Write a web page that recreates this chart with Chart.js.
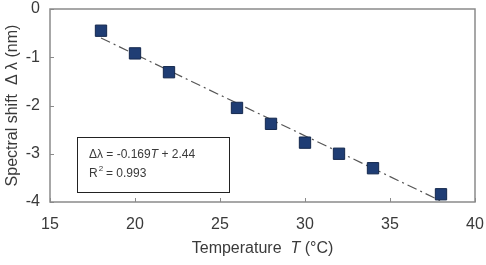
<!DOCTYPE html>
<html>
<head>
<meta charset="utf-8">
<script src="https://cdn.jsdelivr.net/npm/chart.js@4"></script>
<style>
  html, body { margin: 0; padding: 0; background: #fff; }
  #wrap { width: 486px; height: 265px; }
</style>
</head>
<body>
<div id="wrap"><canvas id="myChart" width="486" height="265"></canvas></div>
<script>
// measured points
var temps  = [18, 20, 22, 26, 28, 30, 32, 34, 38];
var shifts = [-0.45, -0.92, -1.31, -2.05, -2.38, -2.77, -3.00, -3.30, -3.84];

// linear fit
var fitT     = [18, 38];
var fitShift = [-0.60, -3.98];

var xTicks = [15, 20, 25, 30, 35, 40];
var yTicks = [0, -1, -2, -3, -4];

var fontFam = '"Liberation Sans", Arial, sans-serif';
var textCol = '#3a3a3a';

// frame, inward ticks, axis titles and the fit box
var decor = {
  id: 'decor',
  afterDatasetsDraw: function(chart) {
    var c = chart.ctx, a = chart.chartArea;
    var xs = chart.scales.x, ys = chart.scales.y;
    c.save();

    c.strokeStyle = '#8a8a8a';
    c.lineWidth = 1.5;
    c.strokeRect(a.left, a.top, a.right - a.left, a.bottom - a.top);

    c.lineWidth = 1;
    xTicks.forEach(function(v) {
      var px = Math.round(xs.getPixelForValue(v)) + 0.5;
      c.beginPath(); c.moveTo(px, a.bottom); c.lineTo(px, a.bottom - 4); c.stroke();
    });
    yTicks.forEach(function(v) {
      var py = Math.round(ys.getPixelForValue(v)) + 0.5;
      c.beginPath(); c.moveTo(a.left, py); c.lineTo(a.left + 4, py); c.stroke();
    });

    // box with equation
    c.fillStyle = '#fff';
    c.fillRect(77, 137, 152, 55);
    c.strokeStyle = '#222';
    c.lineWidth = 1;
    c.strokeRect(77.5, 137.5, 152, 55);

    c.fillStyle = textCol;
    c.textBaseline = 'middle';
    c.textAlign = 'left';
    var x0 = 89;
    c.font = '12px ' + fontFam;
    var s1 = 'Δλ = -0.169';
    c.fillText(s1, x0, 155);
    var w = c.measureText(s1).width;
    c.font = 'italic 12px ' + fontFam;
    c.fillText('T', x0 + w, 155);
    w += c.measureText('T').width;
    c.font = '12px ' + fontFam;
    c.fillText(' + 2.44', x0 + w, 155);

    c.fillText('R', x0, 174);
    var wr = c.measureText('R').width;
    c.font = '8px ' + fontFam;
    c.fillText('2', x0 + wr + 1, 169);
    c.font = '12px ' + fontFam;
    c.fillText(' = 0.993', x0 + wr + 5, 174);

    // x title
    c.font = '16px ' + fontFam;
    var p1 = 'Temperature  ', p3 = ' (°C)';
    var w1 = c.measureText(p1).width, w3 = c.measureText(p3).width;
    c.font = 'italic 16px ' + fontFam;
    var w2 = c.measureText('T').width;
    var sx = (a.left + a.right) / 2 - (w1 + w2 + w3) / 2;
    c.font = '16px ' + fontFam;
    c.fillText(p1, sx, 249);
    c.font = 'italic 16px ' + fontFam;
    c.fillText('T', sx + w1, 249);
    c.font = '16px ' + fontFam;
    c.fillText(p3, sx + w1 + w2, 249);

    // y title
    c.translate(13, (a.top + a.bottom) / 2);
    c.rotate(-Math.PI / 2);
    c.textAlign = 'center';
    c.font = '16px ' + fontFam;
    c.fillText('Spectral shift  Δ λ (nm)', 0, 0);

    c.restore();
  }
};

var ctx = document.getElementById('myChart').getContext('2d');
var chart = new Chart(ctx, {
  type: 'scatter',
  data: {
    datasets: [{
      label: 'measured',
      data: temps.map(function(t, i) { return { x: t, y: shifts[i] }; }),
      pointStyle: 'rect',
      pointRadius: 8,
      pointHoverRadius: 8,
      backgroundColor: '#1f3d74',
      borderColor: '#14284d',
      borderWidth: 1
    }, {
      label: 'fit',
      type: 'line',
      data: fitT.map(function(t, i) { return { x: t, y: fitShift[i] }; }),
      borderColor: '#555',
      borderWidth: 1.2,
      borderDash: [10, 4, 2, 4],
      pointRadius: 0,
      fill: false
    }]
  },
  options: {
    responsive: false,
    animation: false,
    events: [],
    layout: { padding: { top: 7, right: 11, left: 0, bottom: 0 } },
    plugins: { legend: { display: false }, tooltip: { enabled: false } },
    scales: {
      x: {
        type: 'linear', min: 15, max: 40,
        afterBuildTicks: function(s) { s.ticks = xTicks.map(function(v) { return { value: v }; }); },
        afterFit: function(s) { s.height = 63; s.paddingLeft = 0; s.paddingRight = 0; },
        grid: { display: false, drawTicks: false },
        border: { display: false },
        ticks: { padding: 13, color: textCol, font: { size: 16, family: fontFam }, maxRotation: 0 }
      },
      y: {
        type: 'linear', min: -4, max: 0,
        afterBuildTicks: function(s) { s.ticks = yTicks.map(function(v) { return { value: v }; }); },
        afterFit: function(s) { s.width = 50; s.paddingTop = 0; s.paddingBottom = 0; },
        grid: { display: false, drawTicks: false },
        border: { display: false },
        ticks: { padding: 10, color: textCol, font: { size: 16, family: fontFam } }
      }
    }
  },
  plugins: [decor]
});
</script>
</body>
</html>
